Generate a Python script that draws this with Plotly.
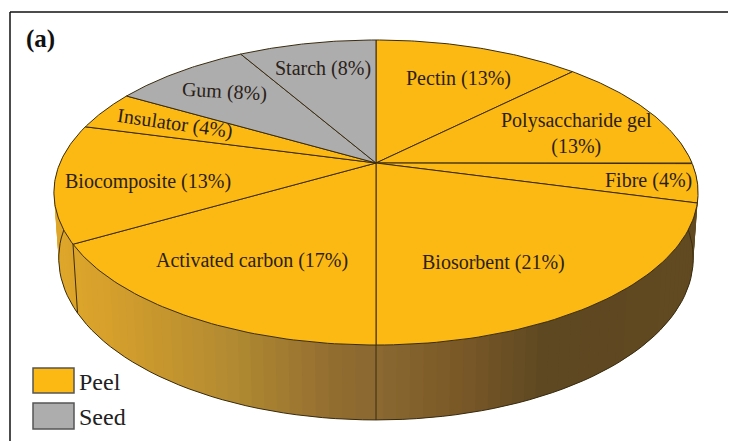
import numpy as np
import plotly.graph_objects as go

categories = ["Pectin", "Polysaccharide gel", "Fibre", "Biosorbent", "Activated carbon",
              "Biocomposite", "Insulator", "Gum", "Starch"]
shares = [12.5, 12.5, 4.17, 20.83, 16.67, 12.5, 4.17, 8.33, 8.33]
percent_labels = ["13%", "13%", "4%", "21%", "17%", "13%", "4%", "8%", "8%"]
groups = ["Peel"] * 7 + ["Seed"] * 2
group_colors = {"Peel": "#fdb913", "Seed": "#adadad"}

CX, CY, R, B, K = 376.0, 163.0, 316.0, 146.8, 0.1935
LOW_CY, LOW_FX, LOW_FY = 227.0, 0.985, 1.06
INK = "#3a2c10"
PAGE_MARGIN = 8


def top(theta):
    u, v = np.sin(theta), np.cos(theta)
    s = 1 / (1 + K * v)
    return CX + R * u * s, CY - B * v * s


def low(theta):
    x, y = top(theta)
    return CX + (x - CX) * LOW_FX, LOW_CY + (y - CY) * LOW_FY


edges = np.concatenate([[0], np.cumsum(shares)]) / sum(shares) * 2 * np.pi
fig = go.Figure()


def poly(xs, ys, fill=None, line=None, width=1, name=None):
    fig.add_trace(go.Scatter(x=list(xs), y=list(ys), mode="lines", fill="toself" if fill else "none",
                             fillcolor=fill, line=dict(color=line or "rgba(0,0,0,0)", width=width if line else 0),
                             hoverinfo="skip", showlegend=False, name=name))


def side_color(x):
    stops = [(54, (224, 168, 42)), (110, (214, 160, 44)), (240, (178, 138, 50)), (330, (150, 112, 48)),
             (376, (138, 104, 48)), (450, (124, 90, 40)), (540, (94, 72, 34)), (700, (98, 74, 33))]
    xs = [p[0] for p in stops]
    rgb = [int(np.interp(x, xs, [p[1][i] for p in stops])) for i in range(3)]
    return f"rgb({rgb[0]},{rgb[1]},{rgb[2]})"


# side wall: overlapping strips, painted from the back of the rim towards the front
ths = np.radians(np.linspace(80, 280, 101))
step = ths[1] - ths[0]
for a in sorted(ths[:-1], key=lambda t: -abs(t + step / 2 - np.pi)):
    lo, hi = a - step * 0.5, a + step * 1.5
    lo, hi = max(lo, ths[0]), min(hi, ths[-1])
    x0, y0 = top(lo)
    x1, y1 = top(hi)
    x2, y2 = low(hi)
    x3, y3 = low(lo)
    poly([x0, x1, x2, x3, x0], [y0, y1, y2, y3, y0], fill=side_color(top(a + step / 2)[0]))
xb, yb = low(ths)
poly(xb, yb, line=INK, width=1)
for e in (edges[4], edges[5]):
    x0, y0 = top(e)
    x1, y1 = low(e)
    poly([x0, x1], [y0, y1], line=INK, width=1)

# top face slices
for i, cat in enumerate(categories):
    th = np.linspace(edges[i], edges[i + 1], 60)
    x, y = top(th)
    poly(np.r_[CX, x, CX], np.r_[CY, y, CY], fill=group_colors[groups[i]], line=INK, width=1, name=cat)

label_pos = [(458, 78), (576, 133), (648, 180), (493, 262), (252, 260), (148, 181), (175, 123), (224, 91), (323, 68)]
label_rot = [0, 0, 0, 0, 0, 0, 8, 3, 0]
serif = "Liberation Serif"
for i, cat in enumerate(categories):
    text = f"{cat} ({percent_labels[i]})"
    if cat == "Polysaccharide gel":
        text = f"{cat}<br>({percent_labels[i]})"
    fig.add_annotation(x=label_pos[i][0], y=label_pos[i][1], text=text, showarrow=False,
                       textangle=label_rot[i], font=dict(family=serif, size=20, color="#2a2118"))

fig.add_annotation(x=40, y=39, text="<b>(a)</b>", showarrow=False, font=dict(family=serif, size=25, color="#111111"))

for name, y0, y1, ty in (("Peel", 368, 393, 382), ("Seed", 403, 429, 417)):
    fig.add_shape(type="rect", x0=33, x1=74, y0=y0, y1=y1, fillcolor=group_colors[name],
                  line=dict(color="#555555", width=1.5))
    fig.add_annotation(x=77, y=ty, text=name, xanchor="left", showarrow=False,
                       font=dict(family=serif, size=24, color="#222222"))

fig.add_shape(type="line", x0=10, x1=736, y0=12, y1=12, line=dict(color="#111111", width=1.5))
fig.add_shape(type="line", x0=10, x1=10, y0=12, y1=441, line=dict(color="#111111", width=1.5))

W, H = 736 - PAGE_MARGIN, 441 - PAGE_MARGIN
fig.update_layout(width=W, height=H, margin=dict(l=0, r=0, t=0, b=0), paper_bgcolor="white",
                  plot_bgcolor="white", showlegend=False,
                  xaxis=dict(range=[PAGE_MARGIN, 736], visible=False, fixedrange=True),
                  yaxis=dict(range=[441, PAGE_MARGIN], visible=False, fixedrange=True))
fig.write_html("out.html")
